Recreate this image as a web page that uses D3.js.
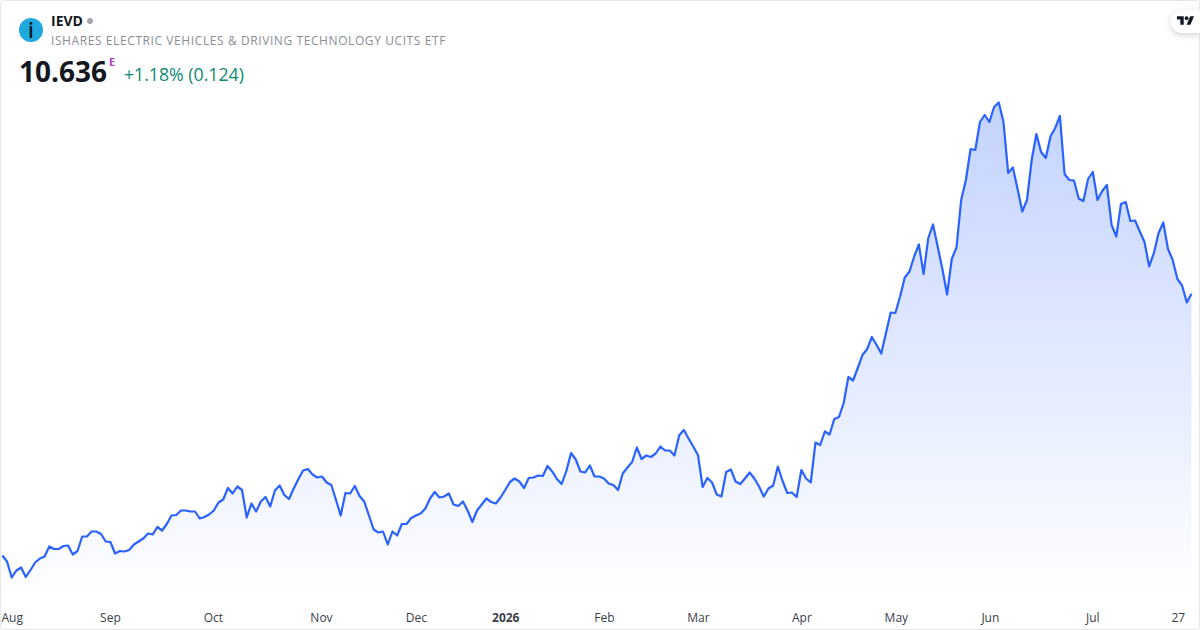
<!DOCTYPE html>
<html>
<head>
<meta charset="utf-8">
<title>IEVD</title>
<script src="https://cdn.jsdelivr.net/npm/d3@7"></script>
<style>
html, body { margin: 0; padding: 0; background: #fff; }
svg { display: block; font-family: "Open Sans", sans-serif; }
</style>
</head>
<body>
<svg id="chart" width="1200" height="630"></svg>
<script>
// closing prices (price scale is an estimate, only the last value is printed)
var prices = [
	5.40,5.28,4.96,5.10,5.16,4.97,5.11,5.26,5.34,5.38,5.58,5.53,5.53,5.59,5.60,5.42,5.49,5.78,5.78,5.88,
	5.88,5.83,5.68,5.67,5.44,5.49,5.48,5.51,5.62,5.68,5.74,5.84,5.82,5.97,5.90,6.03,6.20,6.21,6.30,6.30,
	6.28,6.28,6.14,6.17,6.22,6.30,6.46,6.52,6.75,6.64,6.78,6.71,6.16,6.44,6.28,6.48,6.57,6.38,6.70,6.80,
	6.61,6.53,6.74,6.93,7.10,7.13,7.02,6.96,6.98,6.86,6.81,6.51,6.20,6.65,6.64,6.79,6.59,6.48,6.20,5.92,
	5.86,5.88,5.62,5.88,5.80,
	6.03,6.03,6.15,6.20,6.24,6.34,6.54,6.67,6.56,6.58,6.64,6.42,6.39,6.48,6.30,6.07,6.30,6.42,6.54,6.47,
	6.44,6.56,6.71,6.87,6.94,6.88,6.75,6.95,6.96,7.00,6.99,7.19,7.08,6.93,6.83,7.09,7.45,7.32,7.08,7.06,
	7.20,6.98,6.98,6.94,6.84,6.81,6.71,7.04,7.16,7.27,7.56,7.33,7.40,7.37,7.44,7.58,7.50,7.50,7.40,7.80,
	7.91,7.74,7.58,7.41,6.77,6.95,6.86,6.62,6.58,7.07,7.12,6.88,6.83,6.94,7.06,6.94,6.78,6.58,6.74,6.80,
	7.18,6.89,6.65,6.66,6.57,7.11,6.94,6.86,
	7.66,7.61,7.88,7.82,8.13,8.17,8.45,8.97,8.90,9.15,9.41,9.53,9.77,9.61,9.44,9.85,10.26,10.25,10.58,10.96,
	11.08,11.38,11.62,11.03,11.75,12.02,11.58,11.13,10.62,11.33,11.56,
	12.51,12.91,13.53,13.51,14.07,14.21,14.07,14.37,14.46,14.07,13.05,13.16,12.73,12.28,12.51,13.31,13.83,13.47,13.35,13.78,
	13.95,14.19,13.03,12.91,12.90,12.54,12.49,12.93,13.07,12.51,12.69,12.81,12.01,11.78,12.43,12.47,12.09,12.10,11.88,11.67,
	11.18,11.45,11.85,12.06,11.53,11.31,10.93,10.80,10.46,10.636
];
var tickLabels = ["Aug","Sep","Oct","Nov","Dec","2026","Feb","Mar","Apr","May","Jun","Jul","27"];
var tickIndex = [2,22.9,44.8,67.8,88,107,128,148,170,190.1,210.1,231.9,250.1];

var width = 1200, height = 630;
var svg = d3.select("#chart");

var x = d3.scaleLinear().domain([0, prices.length - 1]).range([2.3, 1191.5]);
var y = d3.scaleLinear().domain([5, 14.5]).range([575.5, 100.5]);

var defs = svg.append("defs");
var grad = defs.append("linearGradient").attr("id", "fade")
	.attr("gradientUnits", "userSpaceOnUse")
	.attr("x1", 0).attr("x2", 0).attr("y1", y(14.46)).attr("y2", 600);
grad.append("stop").attr("offset", 0).attr("stop-color", "#2962ff").attr("stop-opacity", 0.28);
grad.append("stop").attr("offset", 1).attr("stop-color", "#2962ff").attr("stop-opacity", 0);

// area + line
var area = d3.area().x(function(d, i) { return x(i); }).y0(600).y1(function(d) { return y(d); });
var line = d3.line().x(function(d, i) { return x(i); }).y(function(d) { return y(d); });

svg.append("path").datum(prices).attr("d", area).attr("fill", "url(#fade)");
svg.append("path").datum(prices).attr("d", line)
	.attr("fill", "none").attr("stroke", "#2962ff").attr("stroke-width", 2.2).attr("stroke-linejoin", "round");

// time axis
var axis = d3.axisBottom(x).tickValues(tickIndex).tickSize(0).tickPadding(0)
	.tickFormat(function(d, i) { return tickLabels[i]; });
var gx = svg.append("g").attr("transform", "translate(0,613.5)").call(axis);
gx.select(".domain").remove();
gx.selectAll("text")
	.attr("font-family", '"Open Sans", sans-serif')
	.attr("font-size", 12).attr("fill", "#3a3e4a")
	.attr("font-weight", function(d, i) { return tickLabels[i] == "2026" ? 700 : 400; });

// header
svg.append("circle").attr("cx", 31).attr("cy", 30).attr("r", 12).attr("fill", "#1fa8e0");
svg.append("text").attr("x", 31).attr("y", 38).attr("text-anchor", "middle")
	.attr("font-size", 21).attr("font-weight", 600).attr("fill", "#131722").text("i");
svg.append("text").attr("x", 51).attr("y", 26).attr("font-size", 14).attr("font-weight", 700)
	.attr("fill", "#131722").text("IEVD");
svg.append("circle").attr("cx", 90).attr("cy", 21).attr("r", 3).attr("fill", "#a3a6af");
svg.append("text").attr("x", 51).attr("y", 45).attr("font-size", 12).attr("letter-spacing", 0.59)
	.attr("fill", "#8a8d96").text("ISHARES ELECTRIC VEHICLES & DRIVING TECHNOLOGY UCITS ETF");
svg.append("text").attr("x", 19).attr("y", 82).attr("font-size", 28).attr("font-weight", 700)
	.attr("fill", "#131722").text("10.636");
svg.append("text").attr("x", 109).attr("y", 66).attr("font-size", 11).attr("font-weight", 700)
	.attr("fill", "#ab47bc").text("E");
svg.append("text").attr("x", 124).attr("y", 81).attr("font-size", 17.7)
	.attr("fill", "#0b8a70").text("+1.18% (0.124)");

// frame
svg.append("rect").attr("x", 0.5).attr("y", 0.5).attr("width", width - 1).attr("height", height - 1)
	.attr("rx", 3).attr("fill", "none").attr("stroke", "#e4e6ec");

// logo badge
svg.append("path").attr("d", "M1200,10 H1182 A11.5,11.5 0 0 0 1182,33 H1200 Z")
	.attr("fill", "#fff").style("filter", "drop-shadow(0 2px 3px rgba(0,0,0,0.18))");
var logo = svg.append("g").attr("transform", "translate(1177,14.3) scale(0.48)").attr("fill", "#131722");
logo.append("path").attr("d", "M14 22H7V11H0V4h14v18zM28 22h-8l7.5-18h8L28 22z");
logo.append("circle").attr("cx", 20).attr("cy", 8).attr("r", 4);
</script>
</body>
</html>
